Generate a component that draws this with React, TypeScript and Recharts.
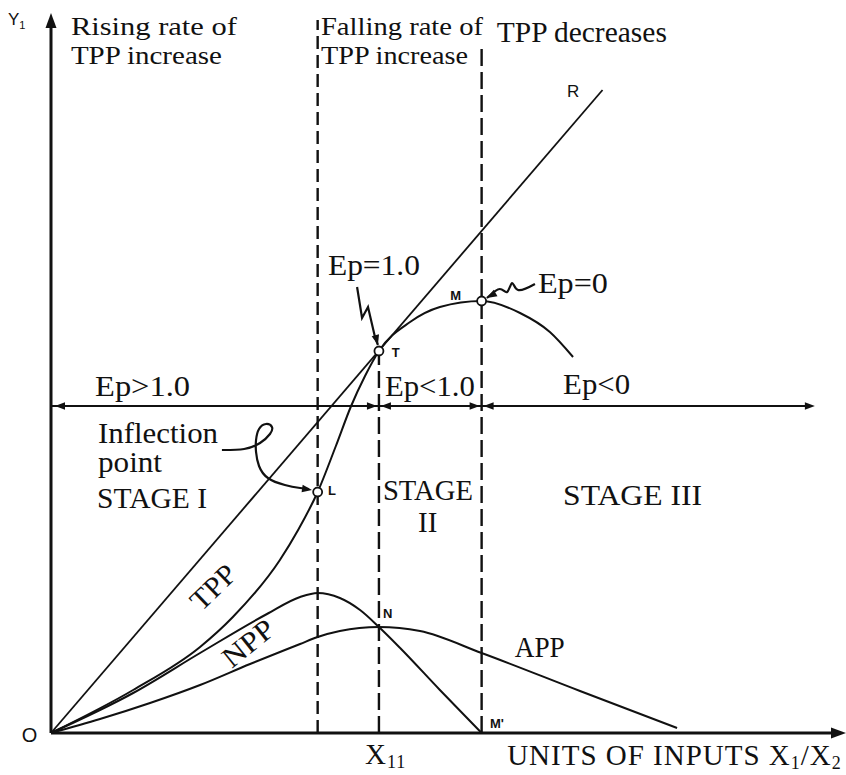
import React from "react";
import { ComposedChart, Line, XAxis, YAxis, ReferenceLine, ReferenceDot } from "recharts";

// x = units of input X1/X2, y = output Y1 (arbitrary units)
const rayX = [0, 16.65];
const rayY = [0, 32.15];

const tppX = [0, 2.48, 4.5, 5.49, 6.91, 7.46, 8.05, 8.6, 9.06, 9.48, 9.9, 10.84, 11.74, 13.0, 14.16, 15.06, 15.76];
const tppY = [0, 2.15, 4.3, 5.8, 8.65, 10.15, 12.05, 14.35, 16.35, 17.85, 19.1, 20.55, 21.3, 21.6, 21.0, 20.05, 18.8];

const nppX = [0, 2.48, 4.5, 6.52, 7.52, 8.05, 8.72, 9.33, 9.9, 10.54, 11.74, 13.0];
const nppY = [0, 2.0, 4.0, 5.95, 6.8, 7.0, 6.75, 6.15, 5.3, 4.25, 2.15, 0];

const appX = [0, 1.48, 2.99, 4.5, 6.01, 7.52, 8.05, 8.72, 9.9, 11.14, 13.0, 15.97, 18.9];
const appY = [0, 0.7, 1.5, 2.4, 3.45, 4.45, 4.8, 5.1, 5.3, 5.1, 4.0, 2.1, 0.25];

// L = inflection, T = tangency with OR (X11), M = TPP maximum
const stageX = [8.05, 9.9, 13.0];
const stageTop = [35.65, 19.1, 34.25];
const markY = [12.05, 19.1, 21.6];

const epLevel = 16.35;
const epEnd = 23.06;
const xMax = 24;
const yMax = 36;

// hand-drawn pointers
const ep1X = [9.24, 9.39, 9.57, 9.78, 9.87];
const ep1Y = [22.3, 20.75, 21.3, 19.8, 19.4];
const ep0X = [14.61, 14.1, 13.92, 13.77, 13.55, 13.16];
const ep0Y = [22.45, 22.15, 22.5, 22.05, 22.2, 21.75];
const inflX = [5.16, 5.83, 6.31, 6.61, 6.67, 6.49, 6.28, 6.19, 6.19, 6.28, 6.55, 7.06, 7.52, 7.79];
const inflY = [14.15, 14.2, 14.5, 14.95, 15.3, 15.45, 15.2, 14.65, 14.05, 13.35, 12.75, 12.4, 12.25, 12.2];

const zip = (xs: number[], ys: number[]) => xs.map((x, i) => ({ x, y: ys[i] }));

type Note = { text: string; x: number; y: number; kind: string; fit?: number; rotate?: number };

const notes: Note[] = [
  { text: "Rising rate of", x: 0.6, y: 34.9, kind: "head", fit: 166 },
  { text: "TPP increase", x: 0.6, y: 33.45, kind: "head", fit: 151 },
  { text: "Falling rate of", x: 8.15, y: 34.9, kind: "head", fit: 162 },
  { text: "TPP increase", x: 8.15, y: 33.45, kind: "head", fit: 147 },
  { text: "TPP decreases", x: 13.46, y: 34.55, kind: "serif", fit: 170 },
  { text: "Ep=1.0", x: 8.36, y: 22.9, kind: "serif", fit: 92 },
  { text: "Ep=0", x: 14.7, y: 22.0, kind: "serif", fit: 70 },
  { text: "Ep>1.0", x: 1.33, y: 16.85, kind: "serif", fit: 95 },
  { text: "Ep<1.0", x: 10.08, y: 16.85, kind: "serif", fit: 90 },
  { text: "Ep<0", x: 15.46, y: 16.95, kind: "serif", fit: 67 },
  { text: "Inflection", x: 1.42, y: 14.5, kind: "serif", fit: 120 },
  { text: "point", x: 1.42, y: 13.05, kind: "serif", fit: 64 },
  { text: "STAGE I", x: 1.39, y: 11.25, kind: "serif", fit: 110 },
  { text: "STAGE", x: 10.02, y: 11.65, kind: "serif", fit: 90 },
  { text: "II", x: 11.08, y: 10.05, kind: "serif" },
  { text: "STAGE III", x: 15.46, y: 11.4, kind: "serif", fit: 139 },
  { text: "APP", x: 14.0, y: 3.8, kind: "serif", fit: 50 },
  { text: "TPP", x: 4.89, y: 7.3, kind: "serif", fit: 52, rotate: -44 },
  { text: "NPP", x: 5.95, y: 4.5, kind: "serif", fit: 58, rotate: -39 },
  { text: "X_11", x: 9.48, y: -1.55, kind: "foot" },
  { text: "UNITS OF INPUTS X_1/X_2", x: 13.77, y: -1.6, kind: "foot" },
  { text: "R", x: 15.58, y: 31.8, kind: "letter" },
  { text: "M", x: 12.05, y: 21.65, kind: "tag" },
  { text: "T", x: 10.29, y: 18.8, kind: "tag" },
  { text: "L", x: 8.36, y: 11.9, kind: "tag" },
  { text: "N", x: 10.02, y: 5.75, kind: "tag" },
  { text: "M'", x: 13.25, y: 0.25, kind: "tag" },
  { text: "O", x: -0.88, y: -0.45, kind: "origin" },
  { text: "Y_1", x: -1.3, y: 35.4, kind: "letter" },
];

const serif = "'Liberation Serif', 'Times New Roman', serif";
const sans = "'Liberation Sans', Arial, sans-serif";

const noteStyles: Record<string, { font: string; size: number; weight: number; sub: number; spacing?: number }> = {
  head: { font: serif, size: 26, weight: 400, sub: 5 },
  serif: { font: serif, size: 29, weight: 400, sub: 6 },
  foot: { font: serif, size: 29, weight: 400, sub: 4, spacing: 1 },
  letter: { font: sans, size: 17, weight: 400, sub: 4 },
  tag: { font: sans, size: 13, weight: 700, sub: 3 },
  origin: { font: sans, size: 20, weight: 400, sub: 4 },
};

// arrow heads: tip position (data units) and screen angle in degrees
const heads = [
  { x: 0, y: yMax, angle: -90, big: true },
  { x: xMax, y: 0, angle: 0, big: true },
  { x: 0.12, y: epLevel, angle: 180 },
  { x: 9.84, y: epLevel, angle: 0 },
  { x: 9.96, y: epLevel, angle: 180 },
  { x: 12.94, y: epLevel, angle: 0 },
  { x: 13.06, y: epLevel, angle: 180 },
  { x: epEnd, y: epLevel, angle: 0 },
  { x: 9.87, y: 19.4, angle: 75 },
  { x: 13.16, y: 21.75, angle: 150 },
  { x: 7.88, y: 12.15, angle: 8 },
];

const ink = "#111";

function Head({ cx, cy, angle, big }: any) {
  const len = big ? 15 : 10;
  const half = big ? 5.5 : 3.8;
  return (
    <path
      d={`M0,0 L${-len},${-half} L${-len},${half} Z`}
      transform={`translate(${cx},${cy}) rotate(${angle})`}
      fill={ink}
    />
  );
}

function NoteText({ cx, cy, note }: any) {
  const st = noteStyles[note.kind];
  const parts: string[] = note.text.split(/_(\d+)/);
  const kids = parts.map((s, i) =>
    i % 2 === 1 ? (
      <tspan key={i} dy={st.sub} fontSize={Math.round(st.size * 0.62)}>
        {s}
      </tspan>
    ) : i > 0 ? (
      <tspan key={i} dy={-st.sub}>
        {s}
      </tspan>
    ) : (
      <tspan key={i}>{s}</tspan>
    )
  );
  const rot = note.rotate != null;
  return (
    <text
      x={cx}
      y={cy}
      fontFamily={st.font}
      fontSize={st.size}
      fontWeight={st.weight}
      letterSpacing={st.spacing}
      fill={ink}
      textAnchor={rot ? "middle" : "start"}
      dominantBaseline={rot ? "central" : "auto"}
      transform={rot ? `rotate(${note.rotate},${cx},${cy})` : undefined}
      textLength={note.fit}
      lengthAdjust={note.fit ? "spacingAndGlyphs" : undefined}
    >
      {kids}
    </text>
  );
}

export default function App() {
  const curve = { dot: false, activeDot: false, isAnimationActive: false, stroke: ink, dataKey: "y" } as const;
  return (
    <div style={{ position: "absolute", left: 0, top: 0, width: 846, height: 775, background: "#fff" }}>
      <ComposedChart width={846} height={775} margin={{ top: 13, right: 0, bottom: 42, left: 51 }}>
        <XAxis type="number" dataKey="x" domain={[0, xMax]} hide />
        <YAxis type="number" domain={[0, yMax]} hide />

        {/* axes */}
        <ReferenceLine segment={[{ x: 0, y: 0 }, { x: 0, y: yMax - 0.5 }]} stroke={ink} strokeWidth={3} ifOverflow="visible" />
        <ReferenceLine segment={[{ x: 0, y: 0 }, { x: xMax - 0.3, y: 0 }]} stroke={ink} strokeWidth={3} ifOverflow="visible" />

        {/* stage boundaries */}
        {stageX.map((x, i) => (
          <ReferenceLine
            key={`s${i}`}
            segment={[{ x, y: 0 }, { x, y: stageTop[i] }]}
            stroke={ink}
            strokeWidth={2.4}
            strokeDasharray={i === 0 ? "13 6" : "17 6"}
            ifOverflow="visible"
          />
        ))}

        {/* elasticity line */}
        <ReferenceLine segment={[{ x: 0, y: epLevel }, { x: epEnd - 0.2, y: epLevel }]} stroke={ink} strokeWidth={2} ifOverflow="visible" />

        <Line {...curve} data={zip(rayX, rayY)} type="linear" strokeWidth={1.8} />
        <Line {...curve} data={zip(tppX, tppY)} type="monotone" strokeWidth={2} />
        <Line {...curve} data={zip(nppX, nppY)} type="monotone" strokeWidth={2} />
        <Line {...curve} data={zip(appX, appY)} type="monotone" strokeWidth={2} />

        <Line {...curve} data={zip(ep1X, ep1Y)} type="linear" strokeWidth={2.2} />
        <Line {...curve} data={zip(ep0X, ep0Y)} type="natural" strokeWidth={2.2} />
        <Line {...curve} data={zip(inflX, inflY)} type="natural" strokeWidth={2.2} />

        {heads.map((h, i) => (
          <ReferenceDot key={`h${i}`} x={h.x} y={h.y} r={0} ifOverflow="visible" shape={(p: any) => <Head cx={p.cx} cy={p.cy} angle={h.angle} big={h.big} />} />
        ))}

        {stageX.map((x, i) => (
          <ReferenceDot key={`d${i}`} x={x} y={markY[i]} r={4.5} fill="#fff" stroke={ink} strokeWidth={1.8} ifOverflow="visible" />
        ))}

        {notes.map((n, i) => (
          <ReferenceDot key={`n${i}`} x={n.x} y={n.y} r={0} ifOverflow="visible" shape={(p: any) => <NoteText cx={p.cx} cy={p.cy} note={n} />} />
        ))}
      </ComposedChart>
    </div>
  );
}
